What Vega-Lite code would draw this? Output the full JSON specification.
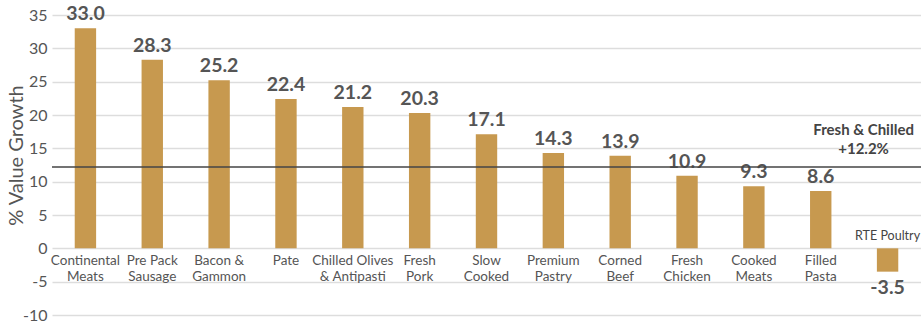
{
  "$schema": "https://vega.github.io/schema/vega-lite/v6.json",
  "width": 869,
  "height": 300,
  "autosize": {"type": "none"},
  "padding": {"left": 52, "top": 15, "right": 0, "bottom": 8},
  "background": "white",
  "config": {
    "view": {"stroke": null},
    "font": "Lato",
    "text": {"font": "Lato"},
    "axisY": {
      "tickCount": 10,
      "labelExpr": "replace(datum.label, '\u2212', '-')",
      "labelOverlap": false,
      "titleFont": "Lato",
      "titleFontSize": 20,
      "titleFontWeight": "normal",
      "titleColor": "#555555",
      "titleX": -36,
      "titleY": 140,
      "titleAngle": -90,
      "titleAlign": "center",
      "titleBaseline": "middle",
      "labelFont": "Lato",
      "labelFontSize": 16,
      "labelColor": "#555555",
      "labelPadding": 5,
      "ticks": false,
      "domain": false,
      "grid": true,
      "gridColor": "#dddddd",
      "gridWidth": 1.5
    }
  },
  "datasets": {
    "growth": [
      {"category": "Continental\nMeats", "value": 33.0},
      {"category": "Pre Pack\nSausage", "value": 28.3},
      {"category": "Bacon &\nGammon", "value": 25.2},
      {"category": "Pate", "value": 22.4},
      {"category": "Chilled Olives\n& Antipasti", "value": 21.2},
      {"category": "Fresh\nPork", "value": 20.3},
      {"category": "Slow\nCooked", "value": 17.1},
      {"category": "Premium\nPastry", "value": 14.3},
      {"category": "Corned\nBeef", "value": 13.9},
      {"category": "Fresh\nChicken", "value": 10.9},
      {"category": "Cooked\nMeats", "value": 9.3},
      {"category": "Filled\nPasta", "value": 8.6},
      {"category": "RTE Poultry", "value": -3.5}
    ],
    "benchmark": [
      {"name": "Fresh & Chilled", "value": 12.2, "anchor": "RTE Poultry"}
    ]
  },
  "layer": [
    {
      "data": {"name": "growth"},
      "mark": {"type": "bar", "color": "#C7994F"},
      "encoding": {
        "x": {
          "field": "category",
          "type": "nominal",
          "sort": null,
          "scale": {"paddingInner": 0.68, "paddingOuter": 0.34},
          "axis": null
        },
        "y": {
          "field": "value",
          "type": "quantitative",
          "scale": {"domain": [-10, 35], "nice": false, "zero": false},
          "axis": {
            "values": [-10, -5, 0, 5, 10, 15, 20, 25, 30, 35],
            "title": "% Value Growth"
          }
        },
        "y2": {"datum": 0}
      }
    },
    {
      "data": {"name": "growth"},
      "transform": [
        {"filter": "datum.value >= 0"},
        {"calculate": "format(datum.value, '.1f')", "as": "shown"}
      ],
      "mark": {"type": "text", "baseline": "bottom", "dy": -4, "fontSize": 19.5, "fontWeight": "bold", "color": "#555555"},
      "encoding": {
        "x": {"field": "category", "type": "nominal", "sort": null},
        "y": {"field": "value", "type": "quantitative"},
        "text": {"field": "shown"}
      }
    },
    {
      "data": {"name": "growth"},
      "transform": [
        {"filter": "datum.value < 0"},
        {"calculate": "replace(format(datum.value, '.1f'), '\u2212', '-')", "as": "shown"}
      ],
      "mark": {"type": "text", "baseline": "top", "dy": 7, "fontSize": 19.5, "fontWeight": "bold", "color": "#555555"},
      "encoding": {
        "x": {"field": "category", "type": "nominal", "sort": null},
        "y": {"field": "value", "type": "quantitative"},
        "text": {"field": "shown"}
      }
    },
    {
      "data": {"name": "growth"},
      "transform": [{"filter": "datum.value >= 0"}],
      "mark": {"type": "text", "baseline": "top", "dy": 6, "fontSize": 13.5, "lineHeight": 16, "lineBreak": "\n", "color": "#555555"},
      "encoding": {
        "x": {"field": "category", "type": "nominal", "sort": null},
        "y": {"datum": 0, "type": "quantitative"},
        "text": {"field": "category"}
      }
    },
    {
      "data": {"name": "growth"},
      "transform": [{"filter": "datum.value < 0"}],
      "mark": {"type": "text", "baseline": "bottom", "dy": -5, "fontSize": 12.5, "color": "#444444"},
      "encoding": {
        "x": {"field": "category", "type": "nominal", "sort": null},
        "y": {"datum": 0, "type": "quantitative"},
        "text": {"field": "category"}
      }
    },
    {
      "data": {"name": "benchmark"},
      "mark": {"type": "rule", "color": "#444444", "strokeWidth": 1.5},
      "encoding": {
        "y": {"field": "value", "type": "quantitative"}
      }
    },
    {
      "data": {"name": "benchmark"},
      "mark": {"type": "text", "baseline": "middle", "dx": -24, "dy": -37, "fontSize": 15, "fontWeight": "bold", "color": "#444444"},
      "encoding": {
        "x": {"field": "anchor", "type": "nominal", "sort": null},
        "y": {"field": "value", "type": "quantitative"},
        "text": {"field": "name"}
      }
    },
    {
      "data": {"name": "benchmark"},
      "transform": [
        {"calculate": "'+' + format(datum.value, '.1f') + '%'", "as": "shown"}
      ],
      "mark": {"type": "text", "baseline": "middle", "dx": -24, "dy": -18, "fontSize": 15, "fontWeight": "bold", "color": "#444444"},
      "encoding": {
        "x": {"field": "anchor", "type": "nominal", "sort": null},
        "y": {"field": "value", "type": "quantitative"},
        "text": {"field": "shown"}
      }
    }
  ]
}
